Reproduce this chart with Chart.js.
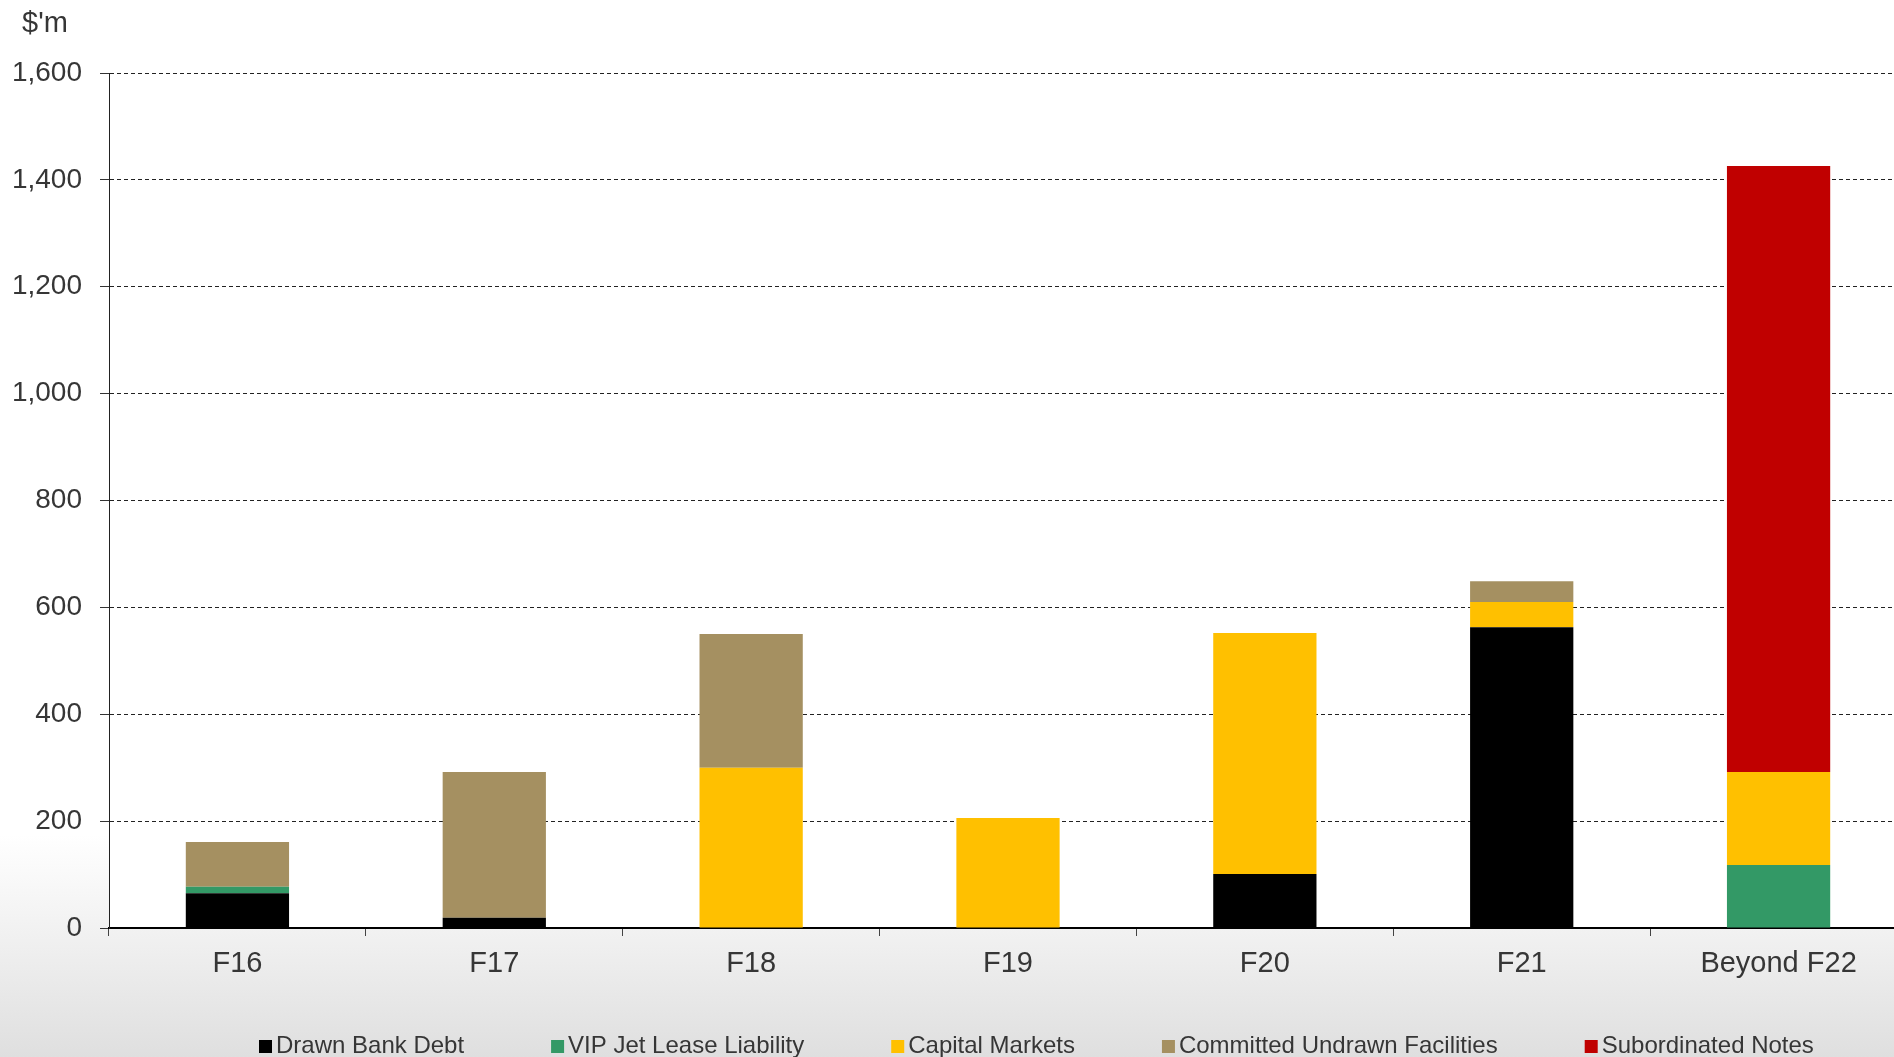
<!DOCTYPE html>
<html lang="en">
<head>
  <meta charset="UTF-8" />
  <title>Debt maturity profile</title>
  <script src="https://cdn.jsdelivr.net/npm/chart.js"></script>
  <style>
    html, body {
      margin: 0;
      padding: 0;
      overflow: hidden;
      width: 1894px;
      height: 1057px;
      background: linear-gradient(to bottom, #ffffff 0%, #ffffff 79%, #f3f3f3 87%, #dfdfdf 100%);
    }
    canvas { display: block; }
  </style>
</head>
<body>
  <canvas id="grafico" width="1910" height="1057"></canvas>

  <script>
    // datos ($'m)
    const categories = ['F16', 'F17', 'F18', 'F19', 'F20', 'F21', 'Beyond F22'];
    const drawnBankDebt = [65, 19, 0, 0, 101, 563, 0];
    const vipJetLease = [12, 0, 0, 0, 0, 0, 118];
    const capitalMarkets = [0, 0, 300, 206, 451, 47, 174];
    const committedUndrawn = [84, 273, 250, 0, 0, 39, 0];
    const subordinatedNotes = [0, 0, 0, 0, 0, 0, 1134];
    const yTicks = [0, 200, 400, 600, 800, 1000, 1200, 1400, 1600];
    const unitLabel = "$'m";

    const fuente = '"Liberation Sans", Arial, sans-serif';
    const textoColor = '#363636';

    // fondo blanco del area del grafico
    const fondoArea = {
      id: 'fondoArea',
      beforeDraw(chart) {
        const { ctx, chartArea: a } = chart;
        ctx.save();
        ctx.fillStyle = '#ffffff';
        ctx.fillRect(a.left, a.top, a.right - a.left, a.bottom - a.top);
        ctx.restore();
      }
    };

    // etiqueta de unidad y leyenda propia
    const extras = {
      id: 'extras',
      afterDraw(chart) {
        const ctx = chart.ctx;
        ctx.save();
        ctx.fillStyle = textoColor;
        ctx.font = '29px ' + fuente;
        ctx.textBaseline = 'middle';
        ctx.textAlign = 'left';
        ctx.fillText(unitLabel, 22, 24);

        ctx.font = '24px ' + fuente;
        ctx.textBaseline = 'alphabetic';
        let x = 259;
        chart.data.datasets.forEach(ds => {
          ctx.fillStyle = ds.backgroundColor;
          ctx.fillRect(x, 1040, 13, 13);
          ctx.fillStyle = textoColor;
          ctx.fillText(ds.label, x + 17, 1053);
          x += 17 + ctx.measureText(ds.label).width + 87;
        });
        ctx.restore();
      }
    };

    const ctx = document.getElementById('grafico').getContext('2d');
    new Chart(ctx, {
      type: 'bar',
      data: {
        labels: categories,
        datasets: [
          { label: 'Drawn Bank Debt', data: drawnBankDebt, backgroundColor: '#000000' },
          { label: 'VIP Jet Lease Liability', data: vipJetLease, backgroundColor: '#339966' },
          { label: 'Capital Markets', data: capitalMarkets, backgroundColor: '#FFC000' },
          { label: 'Committed Undrawn Facilities', data: committedUndrawn, backgroundColor: '#A59061' },
          { label: 'Subordinated Notes', data: subordinatedNotes, backgroundColor: '#C00000' }
        ]
      },
      options: {
        responsive: false,
        animation: false,
        locale: 'en-US',
        datasets: {
          bar: { barPercentage: 0.402, categoryPercentage: 1, borderWidth: 0 }
        },
        layout: { padding: { top: 73, right: 3, bottom: 0, left: 0 } },
        plugins: {
          legend: { display: false },
          tooltip: { enabled: false },
          title: { display: false }
        },
        scales: {
          x: {
            stacked: true,
            afterFit: s => { s.height = 129; },
            grid: {
              display: true,
              drawOnChartArea: false,
              drawTicks: true,
              tickLength: 8,
              offset: true,
              color: '#444444'
            },
            border: { display: true, color: '#000000', width: 2 },
            ticks: {
              color: textoColor,
              padding: 11,
              font: { family: fuente, size: 29 },
              maxRotation: 0
            }
          },
          y: {
            stacked: true,
            min: 0,
            max: 1600,
            afterFit: s => { s.width = 109; },
            afterBuildTicks: s => { s.ticks = yTicks.map(v => ({ value: v })); },
            grid: {
              color: '#222222',
              lineWidth: 1,
              tickLength: 9,
              tickColor: '#333333'
            },
            border: { display: true, color: '#222222', width: 1, dash: [4, 3] },
            ticks: {
              color: textoColor,
              padding: 18,
              font: { family: fuente, size: 28 }
            }
          }
        }
      },
      plugins: [fondoArea, extras]
    });
  </script>
</body>
</html>
